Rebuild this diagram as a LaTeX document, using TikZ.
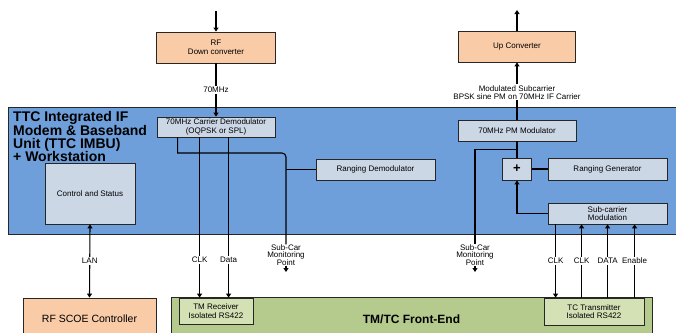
\documentclass[tikz,border=0pt]{standalone}
\usepackage{fontspec}
\setmainfont{Liberation Sans}
\usetikzlibrary{arrows.meta,calc}
\definecolor{imbublue}{HTML}{6F9FDA}
\definecolor{boxgrey}{HTML}{CCD7E6}
\definecolor{peach}{HTML}{F9CBA7}
\definecolor{fegreen}{HTML}{B5CA8D}
\definecolor{rxgreen}{HTML}{D3E1B5}
\tikzset{
  blk/.style={draw=black!85,line width=0.8pt,fill=boxgrey,inner sep=0pt,align=center,font=\fontsize{8}{8.5}\selectfont},
  rfblk/.style={blk,fill=peach},
  ioblk/.style={blk,fill=rxgreen},
  sig/.style={line width=1.1pt},
  tip/.tip={Triangle[length=4pt,width=5pt]},
  arr/.style={sig,-tip},
  lbl/.style={fill=white,inner sep=1pt,align=center,font=\fontsize{8}{8}\selectfont},
  monlbl/.style={inner sep=0pt,align=center,font=\fontsize{8}{7.5}\selectfont},
}

\begin{document}
\begin{tikzpicture}[x=1pt,y=-1pt]
    \useasboundingbox (0,0) rectangle (676,332);
    \clip (0,0) rectangle (676,332);
    \node[draw=black!85,line width=0.8pt,fill=imbublue,minimum width=692pt,minimum height=127pt] (imbu) at (354,170.5) {};
    \node[anchor=north west,inner sep=0pt,align=left,font=\fontsize{14}{13.2}\selectfont\bfseries] (imbutitle) at (13,111.5) {TTC Integrated IF\\Modem \& Baseband\\Unit (TTC IMBU)\\+ Workstation};
    \node[blk,fill=fegreen,minimum width=481pt,minimum height=44pt,font=\fontsize{12}{12}\selectfont\bfseries] (fe) at (411.5,319) {TM/TC Front-End};
    \node[rfblk,minimum width=119pt,minimum height=31pt] (rfdown) at (216,47.5) {RF\\Down converter};
    \node[rfblk,minimum width=117pt,minimum height=31pt] (upconv) at (517,46.5) {Up Converter};
    \node[rfblk,minimum width=133pt,minimum height=42pt,font=\fontsize{10.5}{10.5}\selectfont] (scoe) at (89.5,319) {RF SCOE Controller};
    \node[blk,minimum width=118pt,minimum height=20pt] (demod) at (216,127) {70MHz Carrier Demodulator\\(OQPSK or SPL)};
    \node[blk,minimum width=118pt,minimum height=21pt] (pmmod) at (517,130.5) {70MHz PM Modulator};
    \node[blk,minimum width=90pt,minimum height=61pt] (ctrl) at (90,193.5) {Control and Status};
    \node[blk,minimum width=119pt,minimum height=21pt] (rngdemod) at (375.5,169.5) {Ranging Demodulator};
    \node[blk,minimum width=29pt,minimum height=22pt,font=\fontsize{13}{13}\selectfont\bfseries] (plus) at (517,169) {+};
    \node[blk,minimum width=119pt,minimum height=22pt] (rnggen) at (607.5,169) {Ranging Generator};
    \node[blk,minimum width=119pt,minimum height=21pt] (subcar) at (607.5,213.5) {Sub-carrier\\Modulation};
    \node[ioblk,minimum width=74pt,minimum height=26pt] (tmrx) at (216,311) {TM Receiver\\Isolated RS422};
    \node[ioblk,minimum width=100pt,minimum height=27pt] (tctx) at (594,311.5) {TC Transmitter\\Isolated RS422};
    \node[monlbl] (scmon1) at (286,255) {Sub-Car\\Monitoring\\Point};
    \node[monlbl] (scmon2) at (475,255) {Sub-Car\\Monitoring\\Point};
    \coordinate (rfin) at (216,11);
    \coordinate (upout) at (517,10);
    \coordinate (bend1) at (286,153);
    \coordinate (scout1) at (286,272);
    \coordinate (scout2) at (475,272);
    \coordinate (tap2) at ($(pmmod.south)!0.5!(plus.north)$);
    \draw[arr] (rfin) -- (rfdown.north);
    \draw[arr] (rfdown.south) -- (demod.north) node[lbl,midway] {70MHz};
    \draw[arr] (upconv.north) -- (upout);
    \draw[arr] (pmmod.north) -- (upconv.south) node[lbl,pos=0.48] {Modulated Subcarrier\\BPSK sine PM on 70MHz IF Carrier};
    \draw[sig] ([xshift=21pt]demod.south west) -- ([xshift=21pt]demod.south west |- bend1) [rounded corners=4pt] -- (bend1) -- (scmon1.north);
    \draw[sig] (scmon1.north |- rngdemod.west) -- (rngdemod.west);
    \draw[arr] (scmon1.south) -- (scout1);
    \draw[arr] ([xshift=43pt]demod.south west) -- ([xshift=21pt]tmrx.north west) node[lbl,pos=0.764] {CLK};
    \draw[arr] ([xshift=72pt]demod.south west) -- ([xshift=50pt]tmrx.north west) node[lbl,pos=0.764] {Data};
    \draw[sig,tip-tip] (ctrl.south) -- (scoe.north) node[lbl,midway] {LAN};
    \draw[sig] (pmmod.south) -- (plus.north);
    \draw[sig] (tap2) -| (scmon2.north);
    \draw[arr] (scmon2.south) -- (scout2);
    \draw[sig] (plus.east) -- (rnggen.west);
    \draw[arr] (subcar.west) -| (plus.south);
    \draw[arr] ([xshift=8pt]subcar.south west) -- ([xshift=12pt]tctx.north west) node[lbl,midway] {CLK};
    \draw[arr] ([xshift=38pt]tctx.north west) -- ([xshift=34pt]subcar.south west) node[lbl,midway] {CLK};
    \draw[arr] ([xshift=64pt]tctx.north west) -- ([xshift=60pt]subcar.south west) node[lbl,midway] {DATA};
    \draw[arr] ([xshift=91pt]tctx.north west) -- ([xshift=87pt]subcar.south west) node[lbl,midway] {Enable};
  \end{tikzpicture}
\end{document}
